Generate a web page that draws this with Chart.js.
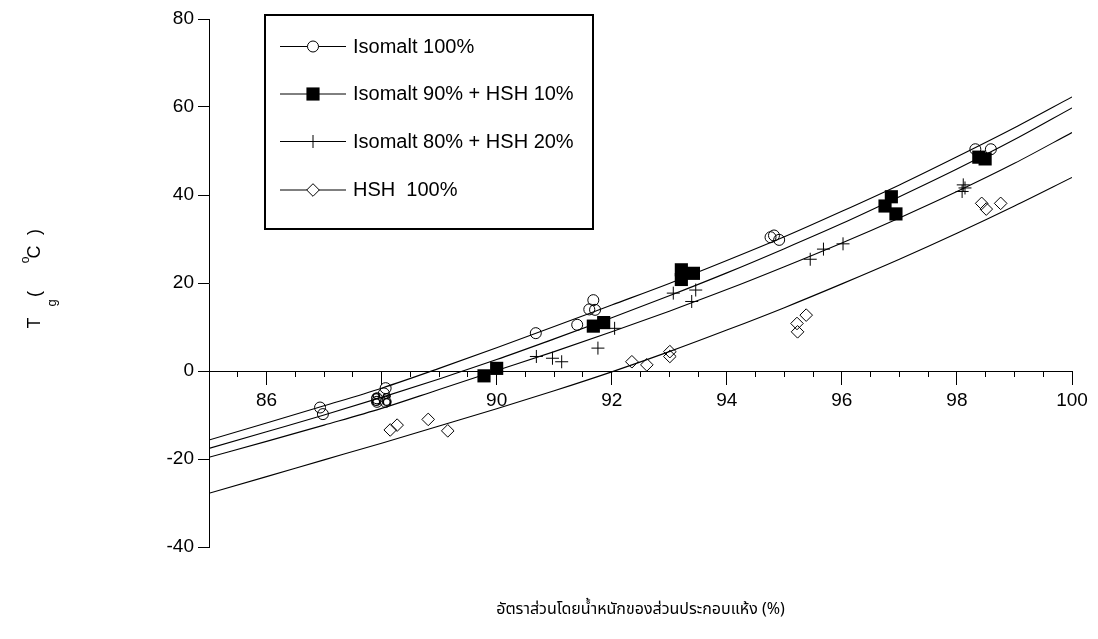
<!DOCTYPE html>
<html><head><meta charset="utf-8">
<script src="https://cdn.jsdelivr.net/npm/chart.js@4.4.1/dist/chart.umd.min.js"></script>
<style>html,body{margin:0;padding:0;background:#fff}#wrap{width:1098px;height:639px;position:relative}</style>
</head><body><div id="wrap"><canvas id="c"></canvas></div>
<script>
// ---------- data ----------
const seriesNames = ['Isomalt 100%', 'Isomalt 90% + HSH 10%', 'Isomalt 80% + HSH 20%', 'HSH  100%'];

const iso100X = [86.93, 86.98, 88.07, 88.04, 87.92, 88.07, 87.92, 90.68, 91.40, 91.68, 91.61, 91.71, 94.76, 94.82, 94.91, 98.32, 98.59];
const iso100Y = [-8.3, -9.8, -3.9, -5.1, -6.2, -7.0, -7.0, 8.6, 10.5, 16.1, 14.0, 13.9, 30.4, 30.8, 29.8, 50.4, 50.4];

const iso90X = [89.78, 90.00, 91.68, 91.86, 93.21, 93.21, 93.42, 96.86, 96.75, 96.94, 98.38, 98.49];
const iso90Y = [-1.1, 0.6, 10.2, 11.0, 23.0, 20.8, 22.2, 39.6, 37.5, 35.7, 48.6, 48.2];

const iso80X = [90.69, 90.97, 91.13, 91.76, 92.05, 93.07, 93.46, 93.39, 95.45, 95.68, 96.02, 98.11, 98.09, 98.14];
const iso80Y = [3.3, 2.9, 2.1, 5.2, 9.7, 17.7, 18.4, 15.8, 25.4, 27.7, 28.9, 42.3, 40.8, 41.6];

const hshX = [88.15, 88.27, 88.81, 89.15, 92.35, 92.61, 93.01, 93.01, 95.22, 95.38, 95.23, 98.43, 98.51, 98.76];
const hshY = [-13.4, -12.3, -11.0, -13.6, 2.1, 1.4, 4.4, 3.3, 10.8, 12.7, 8.9, 38.1, 36.8, 38.1];

// fitted curves
const curveX     = [85, 86, 87, 88, 89, 90, 91, 92, 93, 94, 95, 96, 97, 98, 99, 100];
const fitIso100  = [-15.7, -11.8, -7.9, -3.9, 0.6, 5.3, 10.1, 15.0, 19.9, 25.1, 30.5, 36.3, 42.3, 48.7, 55.3, 62.3];
const fitIso90   = [-17.6, -13.8, -10.0, -6.0, -1.8, 2.6, 7.3, 12.1, 17.1, 22.3, 27.8, 33.5, 39.6, 45.9, 52.6, 59.8];
const fitIso80   = [-19.6, -16.0, -12.3, -8.5, -4.2, 0.1, 4.4, 8.9, 13.6, 18.5, 23.7, 29.1, 34.8, 40.8, 47.2, 54.2];
const fitHsh     = [-27.8, -24.0, -20.2, -16.4, -12.5, -8.6, -4.5, -0.2, 4.4, 9.3, 14.4, 19.8, 25.4, 31.3, 37.5, 44.0];

const xMajorTicks = [86, 88, 90, 92, 94, 96, 98, 100];
const yTicks = [-40, -20, 0, 20, 40, 60, 80];
const xTitle = 'อัตราส่วนโดยน้ำหนักของส่วนประกอบแห้ง (%)';
// y title pieces: text, font size, screen baseline x, screen centre y
const yTitleParts = [['T', 18, 40, 323], ['g', 13, 56, 303], ['(', 18, 40, 294], ['o', 12, 29, 260], ['C', 18, 40, 252], [')', 18, 40, 232]];

// ---------- build ----------
const pts = (xs, ys) => xs.map((x, i) => ({x, y: ys[i]}));
const FONT = '"Liberation Sans", Arial, sans-serif';

const markerStyles = [
  {pointStyle: 'circle', pointRadius: 5.5, backgroundColor: 'rgba(0,0,0,0)', borderColor: '#000', borderWidth: 1},
  {pointStyle: 'rect', pointRadius: 9.3, backgroundColor: '#000', borderColor: '#000', borderWidth: 0},
  {pointStyle: 'cross', pointRadius: 6.5, backgroundColor: '#000', borderColor: '#000', borderWidth: 1},
  {pointStyle: 'rectRot', pointRadius: 6.3, backgroundColor: 'rgba(0,0,0,0)', borderColor: '#000', borderWidth: 1}
];
const pointSets = [pts(iso100X, iso100Y), pts(iso90X, iso90Y), pts(iso80X, iso80Y), pts(hshX, hshY)];
const fits = [fitIso100, fitIso90, fitIso80, fitHsh];

const datasets = [];
pointSets.forEach((d, i) => {
  datasets.push(Object.assign({label: seriesNames[i], data: d, showLine: false, pointHoverRadius: markerStyles[i].pointRadius}, markerStyles[i]));
});
fits.forEach((f, i) => {
  datasets.push({label: seriesNames[i] + ' fit', data: pts(curveX, f), showLine: true, pointRadius: 0,
    borderColor: '#000', borderWidth: 1.1, cubicInterpolationMode: 'monotone', fill: false});
});

const minorTicks = [];
for (let v = 85.5; v < 100; v += 0.5) { if (Math.abs(v / 2 - Math.round(v / 2)) > 1e-6) minorTicks.push(v); }

const boxLegend = {
  id: 'boxLegend',
  afterDraw(chart) {
    const ctx = chart.ctx;
    ctx.save();
    ctx.strokeStyle = '#000';
    ctx.lineWidth = 2;
    ctx.strokeRect(265, 15, 328, 214);
    const rows = [46, 93.5, 141, 189.5];
    for (let i = 0; i < 4; i++) {
      const y = rows[i];
      ctx.lineWidth = 1;
      ctx.strokeStyle = '#000';
      ctx.beginPath(); ctx.moveTo(280, y + 0.5); ctx.lineTo(346, y + 0.5); ctx.stroke();
      const m = markerStyles[i];
      ctx.fillStyle = m.pointStyle === 'rect' ? '#000' : '#fff';
      ctx.strokeStyle = '#000';
      ctx.lineWidth = m.borderWidth || 1;
      Chart.helpers.drawPoint(ctx, {pointStyle: m.pointStyle, radius: m.pointRadius, rotation: 0, borderWidth: m.borderWidth}, 313, y + 0.5);
      ctx.fillStyle = '#000';
      ctx.font = '20px ' + FONT;
      ctx.textBaseline = 'middle';
      ctx.textAlign = 'left';
      ctx.fillText(seriesNames[i], 353, y + 1);
    }
    ctx.restore();
  }
};

const yTitle = {
  id: 'yTitle',
  afterDraw(chart) {
    const ctx = chart.ctx;
    yTitleParts.forEach(([t, size, bx, cy]) => {
      ctx.save();
      ctx.translate(bx, cy);
      ctx.rotate(-Math.PI / 2);
      ctx.fillStyle = '#000';
      ctx.textBaseline = 'alphabetic';
      ctx.textAlign = 'center';
      ctx.font = size + 'px ' + FONT;
      ctx.fillText(t, 0, 0);
      ctx.restore();
    });
  }
};

new Chart(document.getElementById('c'), {
  type: 'scatter',
  data: {datasets},
  options: {
    responsive: true,
    maintainAspectRatio: false,
    animation: false,
    events: [],
    layout: {padding: {top: 19, right: 26, bottom: 0, left: 0}},
    plugins: {
      legend: {display: false},
      tooltip: {enabled: false},
      title: {
        display: true, text: xTitle, position: 'bottom', fullSize: false, color: '#000',
        font: {size: 16, family: '"Noto Sans Thai", "Noto Sans", "DejaVu Sans", sans-serif', weight: 'normal', lineHeight: 1.2},
        padding: {top: 54, bottom: 18.8}
      }
    },
    scales: {
      x: {
        type: 'linear', min: 85, max: 100, position: {y: 0},
        afterBuildTicks: s => { s.ticks = xMajorTicks.map(v => ({value: v})); },
        afterFit: s => { s.height = 0; },
        grid: {drawOnChartArea: false, drawTicks: true, tickLength: 13, color: '#000', lineWidth: 1},
        border: {display: true, color: '#000', width: 1},
        ticks: {color: '#000', font: {size: 19, family: FONT}, padding: 5, maxRotation: 0, autoSkip: false}
      },
      x2: {
        type: 'linear', axis: 'x', min: 85, max: 100, position: {y: 0},
        afterBuildTicks: s => { s.ticks = minorTicks.map(v => ({value: v})); },
        afterFit: s => { s.height = 0; },
        grid: {drawOnChartArea: false, drawTicks: true, tickLength: 6, color: '#000', lineWidth: 1},
        border: {display: false},
        ticks: {display: false, autoSkip: false}
      },
      y: {
        type: 'linear', min: -40, max: 80, position: 'left',
        afterBuildTicks: s => { s.ticks = yTicks.map(v => ({value: v})); },
        afterFit: s => { s.width = 209; },
        grid: {drawOnChartArea: false, drawTicks: true, tickLength: 11, color: '#000', lineWidth: 1},
        border: {display: true, color: '#000', width: 1},
        ticks: {color: '#000', font: {size: 19, family: FONT}, padding: 4}
      }
    }
  },
  plugins: [boxLegend, yTitle]
});
</script>
</body></html>
